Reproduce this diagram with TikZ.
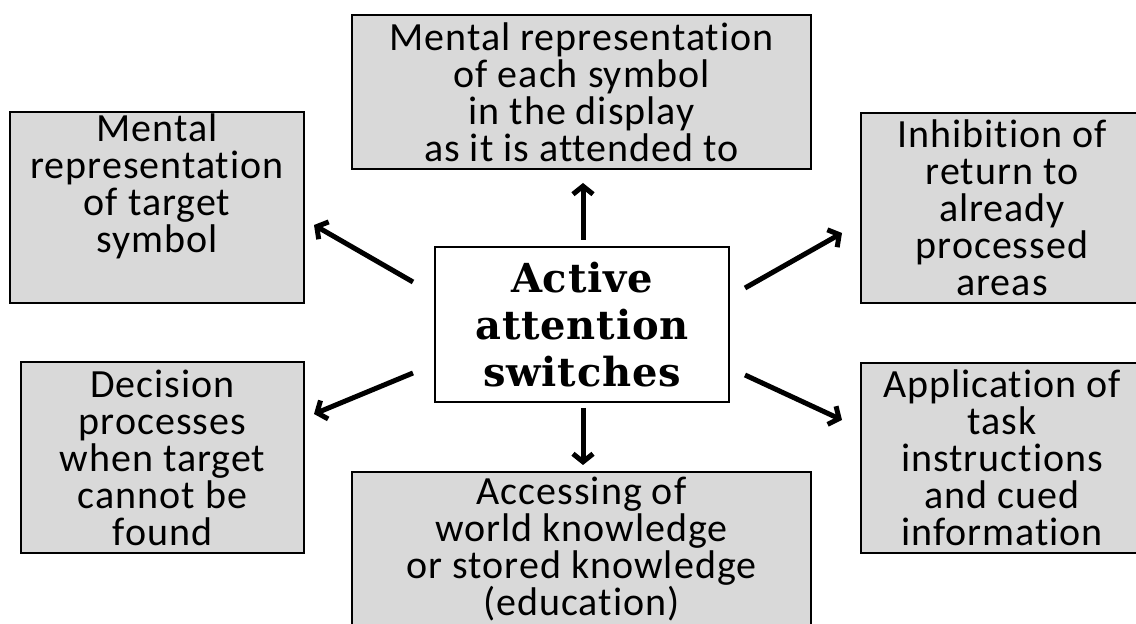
\documentclass[tikz,border=0pt]{standalone}
\usepackage{fontspec}
\setmainfont{Carlito}[Ligatures={NoCommon,NoRequired,NoContextual},LetterSpace=2.5]
\newfontfamily\corefont{DejaVu Serif}[LetterSpace=2]
\usetikzlibrary{arrows.meta}

\begin{document}
\begin{tikzpicture}[x=1pt,y=1pt,
  infobox/.style={draw=drawColor,line width=1.2pt,fill=fillColor,align=center,inner sep=0pt,
    font=\fontsize{40}{37}\selectfont},
  corebox/.style={draw=drawColor,line width=1.5pt,fill=white,align=center,inner sep=0pt,
    font=\corefont\bfseries\fontsize{40}{47}\selectfont},
  switcharrow/.style={draw=drawColor,line width=5pt,-{Straight Barb[length=8pt,width=20pt]}}]
\definecolor{fillColor}{RGB}{217,217,217}
\definecolor{drawColor}{RGB}{0,0,0}
\path[use as bounding box,fill=white] (0,0) rectangle (1136,624);
\begin{scope}
\path[clip] (0,0) rectangle (1136,624);

\node[corebox,minimum width=294pt,minimum height=155pt] (core) at (582,299.5) {Active\\attention\\switches};

\node[infobox,minimum width=459pt,minimum height=154pt] (each) at (581.5,532) {Mental representation\\of each symbol\\in the display\\as it is attended to};

\node[infobox,minimum width=294pt,minimum height=191pt] (target) at (157,416.5) {Mental\\representation\\of target\\symbol\\\strut};

\node[infobox,minimum width=282pt,minimum height=190pt] (inhib) at (1002,416) {Inhibition of\\return to\\already\\processed\\areas};

\node[infobox,minimum width=283pt,minimum height=191pt] (decide) at (162.5,166.5) {Decision\\processes\\when target\\cannot be\\found};

\node[infobox,minimum width=282pt,minimum height=190pt] (task) at (1002,166) {Application of\\task\\instructions\\and cued\\information};

\node[infobox,minimum width=459pt,minimum height=154pt] (know) at (581.5,75) {Accessing of\\world knowledge\\or stored knowledge\\(education)};

% arrow ends
\coordinate (upS) at (583,384);
\coordinate (upE) at (583,441);
\coordinate (dnS) at (583,216);
\coordinate (dnE) at (583,159);
\coordinate (ulS) at (413,342);
\coordinate (ulE) at (314,399);
\coordinate (llS) at (413,251);
\coordinate (llE) at (314,210);
\coordinate (urS) at (745,336);
\coordinate (urE) at (842,391);
\coordinate (lrS) at (745,249);
\coordinate (lrE) at (842,204);

\draw[switcharrow] (upS) -- (upE);
\draw[switcharrow] (dnS) -- (dnE);
\draw[switcharrow] (ulS) -- (ulE);
\draw[switcharrow] (llS) -- (llE);
\draw[switcharrow] (urS) -- (urE);
\draw[switcharrow] (lrS) -- (lrE);
\end{scope}
\end{tikzpicture}
\end{document}
